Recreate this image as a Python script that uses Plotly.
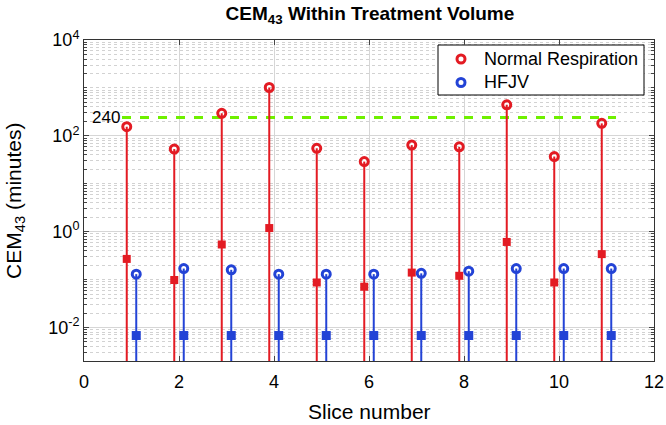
import plotly.graph_objects as go
import numpy as np

# ---- data ----
slices = [1, 2, 3, 4, 5, 6, 7, 8, 9, 10, 11]
normal_peak = [155, 53, 295, 1020, 55, 29, 64, 59, 445, 37, 182]
normal_low = [0.27, 0.098, 0.54, 1.19, 0.087, 0.071, 0.14, 0.12, 0.61, 0.087, 0.34]
hfjv_peak = [0.13, 0.17, 0.16, 0.13, 0.13, 0.13, 0.135, 0.15, 0.17, 0.17, 0.17]
hfjv_low = [0.0068, 0.0068, 0.0068, 0.0068, 0.0068, 0.0068, 0.0068, 0.0068, 0.0068, 0.0068, 0.0068]
threshold = 240
threshold_span = [0.8, 11.2]
xtick_vals = [0, 2, 4, 6, 8, 10, 12]
ytick_exps = [-2, 0, 2, 4]
series_names = ["Normal Respiration", "HFJV"]

RED = "#e31b23"
BLUE = "#2343d6"
GREEN = "#6ff000"
offset = 0.1
stem_base = 1e-3

# layout geometry (pixels)
W, H = 666, 425
ML, MR, MT, MB = 84, 12, 40, 64
PW, PH = W - ML - MR, H - MT - MB


def fx(px):
    return (px - ML) / PW


def fy(py):
    return (H - MB - py) / PH


xr = [s - offset for s in slices]
xb = [s + offset for s in slices]


def stems(xs, tops):
    sx, sy = [], []
    for x, t in zip(xs, tops):
        sx += [x, x, None]
        sy += [stem_base, t, None]
    return sx, sy


fig = go.Figure()

# threshold line
fig.add_trace(go.Scatter(x=threshold_span, y=[threshold, threshold], mode="lines",
                         line=dict(color=GREEN, width=3, dash="dash"), hoverinfo="skip"))

sx, sy = stems(xr, normal_peak)
fig.add_trace(go.Scatter(x=sx, y=sy, mode="lines", line=dict(color=RED, width=2), hoverinfo="skip"))
sx, sy = stems(xb, hfjv_peak)
fig.add_trace(go.Scatter(x=sx, y=sy, mode="lines", line=dict(color=BLUE, width=2), hoverinfo="skip"))

fig.add_trace(go.Scatter(x=xr, y=normal_low, mode="markers",
                         marker=dict(symbol="square", color=RED, size=8)))
fig.add_trace(go.Scatter(x=xb, y=hfjv_low, mode="markers",
                         marker=dict(symbol="square", color=BLUE, size=9)))

fig.add_trace(go.Scatter(x=xr, y=normal_peak, mode="markers", name=series_names[0],
                         marker=dict(symbol="circle-open", color=RED, size=8,
                                     line=dict(width=3, color=RED))))
fig.add_trace(go.Scatter(x=xb, y=hfjv_peak, mode="markers", name=series_names[1],
                         marker=dict(symbol="circle-open", color=BLUE, size=8,
                                     line=dict(width=3, color=BLUE))))

# ---- legend (drawn manually to match compact MATLAB legend) ----
leg_x0, leg_x1, leg_y0, leg_y1 = 438, 644, 45, 95
leg_rows = [59, 82.5]
leg_sym_x, leg_txt_x = 461, 482
fig.add_trace(go.Scatter(x=[fx(leg_x0), fx(leg_x1), fx(leg_x1), fx(leg_x0), fx(leg_x0)],
                         y=[fy(leg_y0), fy(leg_y0), fy(leg_y1), fy(leg_y1), fy(leg_y0)],
                         xaxis="x2", yaxis="y2", mode="lines", fill="toself",
                         fillcolor="white", line=dict(color="black", width=1),
                         cliponaxis=False, hoverinfo="skip"))
for name, col, ry in zip(series_names, [RED, BLUE], leg_rows):
    fig.add_trace(go.Scatter(x=[fx(leg_sym_x)], y=[fy(ry)], xaxis="x2", yaxis="y2",
                             mode="markers", cliponaxis=False, hoverinfo="skip",
                             marker=dict(symbol="circle-open", color=col, size=8,
                                         line=dict(width=3, color=col))))
    fig.add_annotation(xref="paper", yref="paper", x=fx(leg_txt_x), y=fy(ry), text=name,
                       showarrow=False, xanchor="left", yanchor="middle",
                       font=dict(size=18, color="black"))

# minor ticks for log axis
minor_vals = []
for e in range(-3, 5):
    for m in range(1, 10):
        v = m * 10.0 ** e
        if m == 1 and e in ytick_exps:
            continue
        if 0.002 <= v <= 1e4:
            minor_vals.append(v)

fig.add_annotation(x=threshold_span[0], y=np.log10(threshold), text=str(threshold),
                   showarrow=False, xanchor="right", yanchor="middle", xshift=0,
                   font=dict(size=17, color="black"))

# axis titles as text annotations
fig.add_annotation(xref="paper", yref="paper", x=-0.122, y=0.5,
                   text="CEM<sub>43</sub> (minutes)", textangle=-90, showarrow=False,
                   xanchor="center", yanchor="middle", font=dict(size=21, color="black"))
fig.add_annotation(xref="paper", yref="paper", x=0.5, y=fy(411),
                   text="Slice number", showarrow=False,
                   xanchor="center", yanchor="middle", font=dict(size=21, color="black"))

fig.update_layout(
    width=W, height=H,
    margin=dict(l=ML, r=MR, t=MT, b=MB),
    paper_bgcolor="white", plot_bgcolor="white",
    showlegend=False,
    font=dict(family="Liberation Sans, Arial, sans-serif", color="black", size=18),
    title=dict(text="<b>CEM<sub>43</sub> Within Treatment Volume</b>",
               x=0.5555, xanchor="center", y=0.985, yanchor="top",
               font=dict(size=19)),
    xaxis=dict(range=[0, 12], tickvals=xtick_vals, ticks="inside", ticklen=5,
               showgrid=True, gridcolor="#d6d6d6", gridwidth=1,
               showline=True, linecolor="#333", linewidth=1, mirror="allticks",
               zeroline=False, automargin=False, ticklabelstandoff=4,
               tickfont=dict(size=18)),
    yaxis=dict(type="log", range=[np.log10(0.002), 4],
               tickvals=[10.0 ** e for e in ytick_exps],
               ticktext=["10<sup>%d</sup>" % e for e in ytick_exps],
               ticks="inside", ticklen=5,
               showgrid=True, gridcolor="#d6d6d6", gridwidth=1,
               showline=True, linecolor="#333", linewidth=1, mirror="allticks",
               zeroline=False, automargin=False,
               minor=dict(tickmode="array", tickvals=minor_vals, ticks="inside", ticklen=3,
                          showgrid=True, gridcolor="#d2d2d2", griddash="dot", gridwidth=1),
               tickfont=dict(size=18)),
    xaxis2=dict(overlaying="x", range=[0, 1], visible=False, fixedrange=True),
    yaxis2=dict(overlaying="y", range=[0, 1], visible=False, fixedrange=True),
)

fig.write_html("out.html", post_script="document.body.style.margin='0';",
               config={"displayModeBar": False})
